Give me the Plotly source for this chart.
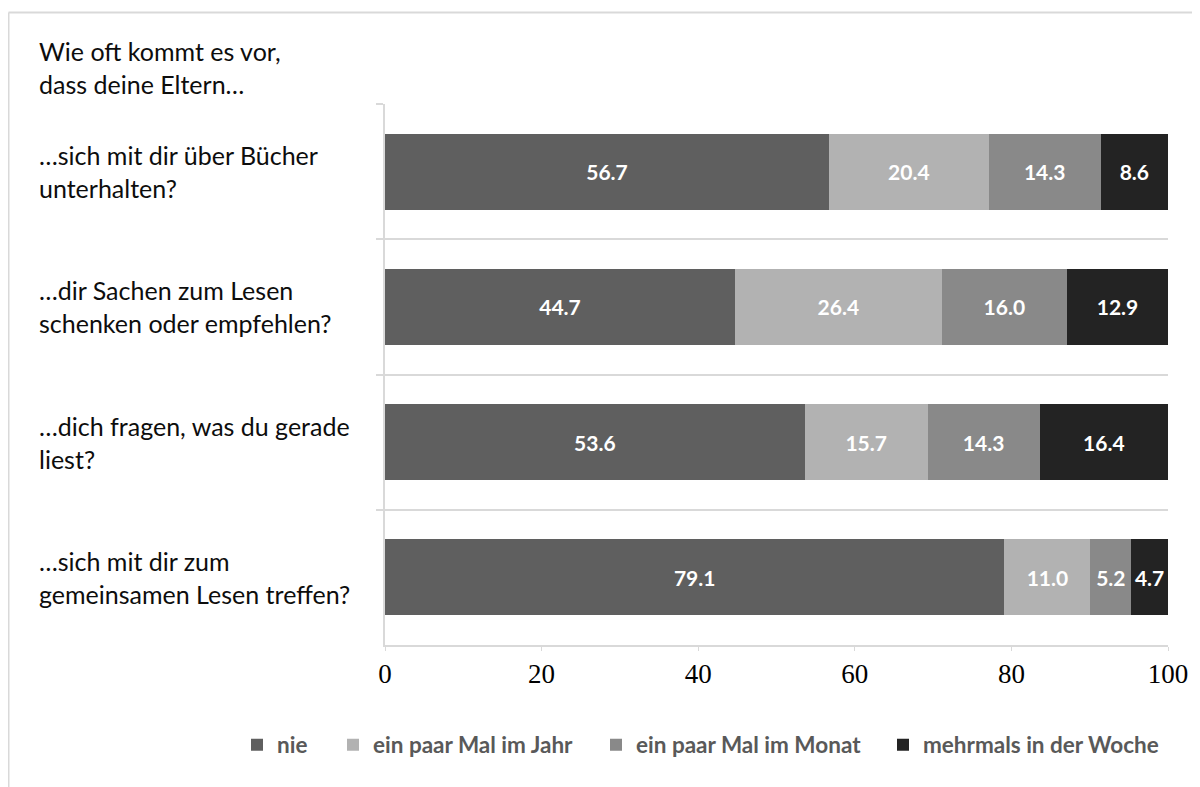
import plotly.graph_objects as go

categories = [
    "…sich mit dir über Bücher<br>unterhalten?",
    "…dir Sachen zum Lesen<br>schenken oder empfehlen?",
    "…dich fragen, was du gerade<br>liest?",
    "…sich mit dir zum<br>gemeinsamen Lesen treffen?",
]
series_names = ["nie", "ein paar Mal im Jahr", "ein paar Mal im Monat", "mehrmals in der Woche"]
nie = [56.7, 44.7, 53.6, 79.1]
jahr = [20.4, 26.4, 15.7, 11.0]
monat = [14.3, 16.0, 14.3, 5.2]
woche = [8.6, 12.9, 16.4, 4.7]
x_ticks = [0, 20, 40, 60, 80, 100]
title_text = "Wie oft kommt es vor,<br>dass deine Eltern…"

colors = ["#5f5f5f", "#b2b2b2", "#898989", "#232323"]
values = [nie, jahr, monat, woche]

# page offset of the figure inside the html body
OFF = 8
W, H = 1200 - OFF, 787 - OFF
# plot area in page pixels
L, R, T, B = 385, 1168, 104, 645

def px_x(p):
    return (p - L) / (R - L)

def px_y(p):
    return (B - p) / (B - T)

legend_names = ["legend", "legend2", "legend3", "legend4"]
legend_marker_x = [252, 348, 611, 898]

fig = go.Figure()
for name, vals, col, lg in zip(series_names, values, colors, legend_names):
    fig.add_trace(go.Bar(
        y=categories, x=vals, name=name, orientation="h",
        marker=dict(color=col, line=dict(width=0)),
        text=vals, texttemplate="%{x:.1f}", textposition="inside",
        insidetextanchor="middle", textangle=0,
        textfont=dict(family="Lato", size=21, color="white", weight="bold"),
        hoverinfo="skip", legend=lg,
    ))

annotations = [dict(
    x=px_x(37), y=px_y(67), xref="paper", yref="paper",
    text=title_text, showarrow=False, xanchor="left", yanchor="middle",
    align="left", font=dict(family="Lato", size=25, color="#0d0d0d"),
)]
for c in categories:
    annotations.append(dict(
        x=px_x(37), y=c, xref="paper", yref="y",
        text=c, showarrow=False, xanchor="left", yanchor="middle",
        align="left", font=dict(family="Lato", size=25, color="#0d0d0d"),
    ))

shapes = [
    dict(type="line", xref="paper", yref="paper", x0=px_x(8.5), x1=px_x(1210),
         y0=px_y(12.5), y1=px_y(12.5), line=dict(color="#d9d9d9", width=2)),
    dict(type="line", xref="paper", yref="paper", x0=px_x(8.5), x1=px_x(8.5),
         y0=px_y(12.5), y1=px_y(800), line=dict(color="#d9d9d9", width=2)),
]

legend_font = dict(family="Lato", size=22.5, color="#595959", weight="bold")
legend_layouts = {}
for lg, mx in zip(legend_names, legend_marker_x):
    legend_layouts[lg] = dict(
        orientation="h", x=px_x(mx - 15), y=px_y(745), xanchor="left", yanchor="middle",
        font=legend_font, itemwidth=30, bgcolor="rgba(0,0,0,0)",
    )

fig.update_layout(
    barmode="stack",
    bargap=0.438,
    width=W, height=H,
    margin=dict(l=L - OFF, r=1200 - R, t=T - OFF, b=787 - B, autoexpand=False),
    paper_bgcolor="white", plot_bgcolor="white",
    annotations=annotations, shapes=shapes,
    uniformtext=dict(minsize=19, mode="show"),
    showlegend=True,
    xaxis=dict(
        range=[0, 100], tickvals=x_ticks, ticks="outside", ticklen=4,
        tickcolor="#d9d9d9", showgrid=False, showline=True, linecolor="#d9d9d9",
        linewidth=1.5, zeroline=False,
        tickfont=dict(family="Liberation Serif", size=27, color="#000000"),
    ),
    yaxis=dict(
        type="category", categoryorder="array", categoryarray=categories,
        autorange="reversed", tickson="boundaries", ticks="outside", ticklen=7,
        tickcolor="#d9d9d9", tickwidth=1.5, showgrid=True, gridcolor="#d9d9d9",
        gridwidth=1.5, showline=True, linecolor="#d9d9d9", linewidth=1.5,
        showticklabels=False, zeroline=False,
    ),
    **legend_layouts,
)

fig.write_html("out.html")
